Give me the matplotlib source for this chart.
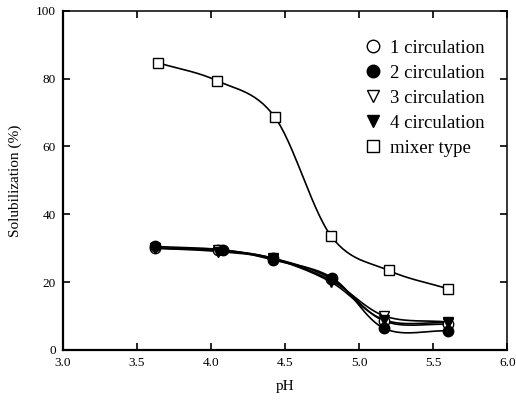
import numpy as np
import matplotlib
matplotlib.use('Agg')
import matplotlib.pyplot as plt

plt.rcParams['font.family'] = ['Liberation Serif', 'DejaVu Serif']

# Data
ph_mix = [3.64, 4.04, 4.43, 4.81, 5.20, 5.60]
mixer = [84.7, 79.4, 68.7, 33.6, 23.4, 18.0]

ph_c1 = [3.62, 4.05, 4.42, 4.81, 5.17, 5.60]
ph_c2 = [3.62, 4.08, 4.42, 4.82, 5.17, 5.60]
circ1 = [30.0, 29.5, 27.0, 21.0, 8.5, 7.5]
circ2 = [30.5, 29.5, 26.5, 21.2, 6.3, 5.6]
circ3 = [30.0, 29.3, 27.0, 20.5, 10.0, 8.2]
circ4 = [30.0, 29.0, 26.8, 20.0, 8.8, 8.0]

x_ticks = [3.0, 3.5, 4.0, 4.5, 5.0, 5.5, 6.0]
y_ticks = [0, 20, 40, 60, 80, 100]


def smooth(x, y, n=30):
    # Catmull-Rom curve through the points
    x = np.asarray(x, float)
    y = np.asarray(y, float)
    px = np.concatenate([[2 * x[0] - x[1]], x, [2 * x[-1] - x[-2]]])
    py = np.concatenate([[2 * y[0] - y[1]], y, [2 * y[-1] - y[-2]]])
    xs, ys = [], []
    t = np.linspace(0, 1, n)
    for i in range(1, len(px) - 2):
        for p, out in ((px, xs), (py, ys)):
            p0, p1, p2, p3 = p[i - 1], p[i], p[i + 1], p[i + 2]
            out.extend(0.5 * (2 * p1 + (-p0 + p2) * t
                              + (2 * p0 - 5 * p1 + 4 * p2 - p3) * t ** 2
                              + (-p0 + 3 * p1 - 3 * p2 + p3) * t ** 3))
    return xs, ys


fig = plt.figure(figsize=(5.16, 4.03), dpi=100)
ax = fig.add_axes([0.122, 0.132, 0.861, 0.841])

ms = 7.5
for xx, yy in ((ph_mix, mixer), (ph_c1, circ1), (ph_c2, circ2),
               (ph_c1, circ3), (ph_c1, circ4)):
    sx, sy = smooth(xx, yy)
    ax.plot(sx, sy, color='black', lw=1.2, zorder=2)

ax.plot(ph_c1, circ1, 'o', ms=ms, mfc='white', mec='black', mew=1.0,
        label='1 circulation', zorder=3)
ax.plot(ph_c1, circ3, 'v', ms=ms, mfc='white', mec='black', mew=1.0,
        label='3 circulation', zorder=3)
ax.plot(ph_c1, circ4, 'v', ms=ms, color='black', label='4 circulation', zorder=4)
ax.plot(ph_c2, circ2, 'o', ms=ms, color='black', label='2 circulation', zorder=5)
ax.plot(ph_mix, mixer, 's', ms=7, mfc='white', mec='black', mew=1.0,
        label='mixer type', zorder=3)

handles, labels = ax.get_legend_handles_labels()
order = [0, 3, 1, 2, 4]
ax.legend([handles[i] for i in order], [labels[i] for i in order],
          loc='upper right', bbox_to_anchor=(0.975, 0.948), frameon=False,
          fontsize=13.5, handlelength=0.8, handletextpad=0.5,
          labelspacing=0.42, borderaxespad=0.2, markerscale=1.2)

ax.set_xlim(3.0, 6.0)
ax.set_ylim(0, 100)
ax.set_xticks(x_ticks)
ax.set_xticklabels(['%.1f' % v for v in x_ticks])
ax.set_yticks(y_ticks)
ax.tick_params(direction='in', top=True, right=True, length=5, width=1.2,
               labelsize=9.5, pad=5)
for side in ('left', 'bottom'):
    ax.spines[side].set_linewidth(1.6)
for side in ('top', 'right'):
    ax.spines[side].set_linewidth(1.1)

ax.set_xlabel('pH', fontsize=11, labelpad=8)
ax.set_ylabel('Solubilization (%)', fontsize=11, labelpad=10)

fig.savefig('out.png', dpi=100)
